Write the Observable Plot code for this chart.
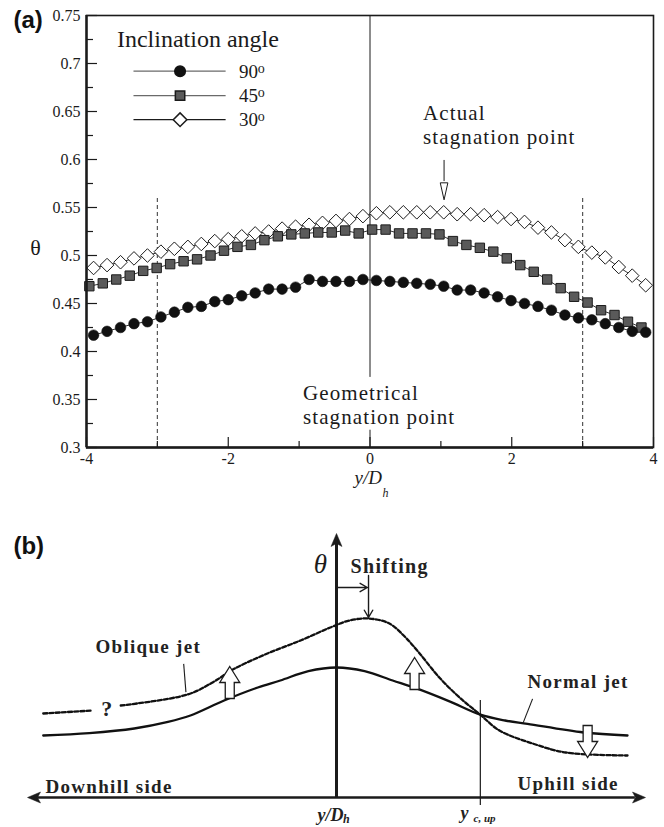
<!DOCTYPE html>
<html>
<head>
<meta charset="utf-8">
<script src="https://cdn.jsdelivr.net/npm/d3@7"></script>
<script src="https://cdn.jsdelivr.net/npm/@observablehq/plot@0.6"></script>
<style>
  body { margin: 0; background: #fff; }
  svg { display: block; }
</style>
</head>
<body>
<script>
// ---------------- Panel (a) data ----------------
const xPos = [-3.90,-3.71,-3.52,-3.33,-3.14,-2.95,-2.76,-2.57,-2.38,-2.19,-2.00,-1.81,-1.62,-1.43,-1.24,-1.05,-0.86,-0.67,-0.48,-0.29,-0.10,0.09,0.28,0.47,0.66,0.85,1.04,1.23,1.42,1.61,1.80,1.99,2.18,2.37,2.56,2.75,2.94,3.13,3.32,3.51,3.70,3.89];
const xPosSquare = [-3.96,-3.77,-3.58,-3.39,-3.20,-3.01,-2.82,-2.63,-2.44,-2.25,-2.06,-1.87,-1.68,-1.49,-1.30,-1.11,-0.92,-0.73,-0.54,-0.35,-0.16,0.03,0.22,0.41,0.60,0.79,0.98,1.17,1.36,1.55,1.74,1.93,2.12,2.31,2.50,2.69,2.88,3.07,3.26,3.45,3.64,3.83];
const theta90 = [0.417,0.421,0.425,0.429,0.431,0.436,0.441,0.446,0.447,0.452,0.454,0.458,0.461,0.465,0.465,0.467,0.475,0.473,0.473,0.473,0.475,0.474,0.473,0.472,0.471,0.470,0.468,0.464,0.464,0.461,0.457,0.453,0.450,0.447,0.443,0.438,0.435,0.433,0.429,0.425,0.421,0.420];
const theta45 = [0.468,0.471,0.475,0.479,0.484,0.487,0.491,0.494,0.496,0.500,0.505,0.509,0.511,0.516,0.520,0.522,0.523,0.524,0.524,0.526,0.523,0.527,0.527,0.523,0.523,0.523,0.522,0.515,0.511,0.508,0.504,0.497,0.490,0.483,0.475,0.466,0.457,0.451,0.443,0.438,0.431,0.425];
const theta30 = [0.487,0.490,0.493,0.497,0.500,0.504,0.507,0.509,0.512,0.515,0.517,0.520,0.523,0.525,0.528,0.530,0.532,0.534,0.536,0.538,0.541,0.544,0.545,0.545,0.545,0.545,0.545,0.543,0.543,0.542,0.540,0.538,0.535,0.529,0.524,0.516,0.509,0.503,0.498,0.488,0.479,0.469];

const yTicks = [0.3,0.35,0.4,0.45,0.5,0.55,0.6,0.65,0.7,0.75];
const yTickLabels = ["0.3","0.35","0.4","0.45","0.5","0.55","0.6","0.65","0.7","0.75"];
const yMinorTicks = [0.325,0.375,0.425,0.475,0.525,0.575,0.625,0.675,0.725];
const xTicks = [-4,-2,0,2,4];
const xTickLabels = ["-4","-2","0","2","4"];
const xMinorTicks = [-3,-1,1,3];
const dashedRefX = [-3,3];

const legendTitle = "Inclination angle";
const legendAngles = ["90","45","30"];
const legendTheta = [0.692,0.6665,0.6415];

// ---------------- Panel (b) data (schematic) ----------------
const normalU     = [-5.22,-4.4,-3.6,-3.0,-2.6,-2.0,-1.4,-1.0,-0.5,0,0.5,1.0,1.4,2.0,2.56,3.0,3.4,4.4,5.18];
const normalTheta = [0.31,0.322,0.345,0.378,0.41,0.485,0.55,0.585,0.632,0.65,0.632,0.585,0.548,0.482,0.414,0.385,0.368,0.325,0.31];
const obliqueLeftU     = [-5.22,-4.34];
const obliqueLeftTheta = [0.42,0.435];
const obliqueU     = [-3.84,-2.65,-2.19,-1.83,-1.23,-0.64,-0.11,0.23,0.57,0.94,1.23,1.48,1.83,2.19,2.56,2.90,3.49,4.08,5.18];
const obliqueTheta = [0.46,0.515,0.578,0.642,0.72,0.785,0.85,0.885,0.895,0.87,0.80,0.72,0.60,0.50,0.414,0.335,0.27,0.225,0.21];
const crossU = 2.56;
const upArrowU = [-1.90, 1.39];
const upArrowTip = [0.655, 0.70];
const downArrowU = [4.47];
const downArrowTip = [0.20];

// ---------------- helpers ----------------
const ink = "#1b1b1b";
const serif = "Liberation Serif, Times New Roman, serif";
const sans = "Liberation Sans, Arial, sans-serif";
function polySym(pts) {
  return {draw(c) { c.moveTo(pts[0][0], pts[0][1]); for (let i = 1; i < pts.length; i++) c.lineTo(pts[i][0], pts[i][1]); c.closePath(); }};
}
const squareSym = polySym([[-4.7,-4.7],[4.7,-4.7],[4.7,4.7],[-4.7,4.7]]);
const diamondSym = polySym([[0,-6.8],[6.8,0],[0,6.8],[-6.8,0]]);
const narrowDown = polySym([[0,0],[-3.8,-17],[3.8,-17]]);
const headLeft = polySym([[0,0],[13,-5.5],[10,0],[13,5.5]]);
const headRight = polySym([[0,0],[-13,-5.5],[-10,0],[-13,5.5]]);
const headUp = polySym([[0,0],[-5.5,13],[0,10],[5.5,13]]);
const AL = 32, AHW = 10, ASW = 4.5, AHL = 16;
const blockUp = polySym([[0,0],[AHW,AHL],[ASW,AHL],[ASW,AL],[-ASW,AL],[-ASW,AHL],[-AHW,AHL]]);
const blockDown = polySym([[0,0],[AHW,-AHL],[ASW,-AHL],[ASW,-AL],[-ASW,-AL],[-ASW,-AHL],[-AHW,-AHL]]);

// ---------------- Panel (a) ----------------
const W = 664;
const aH = 500, aTop = 15, aBottom = 53, aLeft = 86, aRight = 11;
const innerW = W - aLeft - aRight, innerH = aH - aTop - aBottom;

const s90 = xPos.map((x, i) => ({x, y: theta90[i]}));
const s45 = xPosSquare.map((x, i) => ({x, y: theta45[i]}));
const s30 = xPos.map((x, i) => ({x, y: theta30[i]}));
const legendX1 = -3.33, legendX2 = -2.03, legendMarkX = -2.68, legendLabelX = -1.85, legendSupX = -1.585;
const legendRows = legendAngles.map((a, i) => ({a, t: legendTheta[i]}));
const annot = [
  {x: 0.749, t: 0.6411, s: "Actual"},
  {x: 0.749, t: 0.6161, s: "stagnation point"},
  {x: -0.946, t: 0.3495, s: "Geometrical"},
  {x: -0.946, t: 0.3245, s: "stagnation point"}
];

const panelA = Plot.plot({
  width: W, height: aH,
  marginTop: aTop, marginBottom: aBottom, marginLeft: aLeft, marginRight: aRight,
  x: {domain: [-4, 4], axis: null},
  y: {domain: [0.3, 0.75], axis: null},
  style: {background: "white"},
  marks: [
    Plot.ruleX(dashedRefX, {y1: 0.3, y2: 0.561, stroke: "#555", strokeWidth: 1.2, strokeDasharray: "4,3"}),
    Plot.ruleX([0], {y1: 0.373, y2: 0.75, stroke: ink, strokeWidth: 1}),
    Plot.ruleX([0], {y1: 0.3, y2: 0.318, stroke: ink, strokeWidth: 1}),
    Plot.ruleX([1.045], {y1: 0.599, y2: 0.577, stroke: ink, strokeWidth: 1}),
    Plot.dot([{x: 1.045, y: 0.558}], {x: "x", y: "y", symbol: narrowDown, r: 5, fill: "white", stroke: ink, strokeWidth: 1}),
    Plot.line(s30, {x: "x", y: "y", stroke: ink, strokeWidth: 0.9}),
    Plot.line(s45, {x: "x", y: "y", stroke: ink, strokeWidth: 0.9}),
    Plot.line(s90, {x: "x", y: "y", stroke: ink, strokeWidth: 0.9}),
    Plot.dot(s30, {x: "x", y: "y", symbol: diamondSym, r: 5, fill: "white", stroke: ink, strokeWidth: 1}),
    Plot.dot(s45, {x: "x", y: "y", symbol: squareSym, r: 5, fill: "#5a5a5a", stroke: ink, strokeWidth: 1}),
    Plot.dot(s90, {x: "x", y: "y", r: 5.3, fill: "#111", stroke: "#111", strokeWidth: 0.6}),
    Plot.frame({stroke: ink, strokeWidth: 1.6}),
    Plot.ruleX([-4], {y1: 0.3, y2: 0.75, stroke: ink, strokeWidth: 2.4}),
    Plot.ruleY([0.3], {x1: -4, x2: 4, stroke: ink, strokeWidth: 2.4}),
    Plot.tickY(yTicks, {stroke: ink, strokeWidth: 1.2, insetRight: innerW - 11}),
    Plot.tickY(yMinorTicks, {stroke: ink, strokeWidth: 1.2, insetRight: innerW - 7}),
    Plot.tickX(xTicks, {stroke: ink, strokeWidth: 1.2, insetTop: innerH - 10}),
    Plot.tickX(xMinorTicks, {stroke: ink, strokeWidth: 1.2, insetTop: innerH - 6}),
    Plot.text(yTicks, {x: -4, y: d => d, text: (d, i) => yTickLabels[i], textAnchor: "end", lineAnchor: "middle", dx: -6, fontSize: 16, fontFamily: serif, fill: ink}),
    Plot.text(xTicks, {x: d => d, y: 0.3, text: (d, i) => xTickLabels[i], lineAnchor: "top", dy: 5, fontSize: 16, fontFamily: serif, fill: ink}),
    Plot.text(["y/D"], {x: 0.17, y: 0.2625, textAnchor: "end", lineAnchor: "bottom", fontSize: 19, fontStyle: "italic", fontFamily: serif, fill: ink}),
    Plot.text(["h"], {x: 0.175, y: 0.2625, textAnchor: "start", lineAnchor: "bottom", dy: 13, fontSize: 12, fontStyle: "italic", fontFamily: serif, fill: ink}),
    Plot.text(["θ"], {x: -4.72, y: 0.508, lineAnchor: "middle", fontSize: 22, fontFamily: serif, fill: ink}),
    Plot.text(["(a)"], {x: -5.03, y: 0.7365, textAnchor: "start", lineAnchor: "bottom", fontSize: 24, fontWeight: "bold", fontFamily: sans, fill: "#111"}),
    // legend
    Plot.text([legendTitle], {x: -3.57, y: 0.7167, textAnchor: "start", lineAnchor: "bottom", fontSize: 24, fontFamily: serif, fill: ink}),
    Plot.ruleY(legendRows, {y: "t", x1: legendX1, x2: legendX2, stroke: (d, i) => i < 2 ? "#6a6a6a" : ink, strokeWidth: 1.2}),
    Plot.dot([legendRows[0]], {x: legendMarkX, y: "t", r: 5.3, fill: "#111", stroke: "#111"}),
    Plot.dot([legendRows[1]], {x: legendMarkX, y: "t", symbol: squareSym, r: 5, fill: "#5a5a5a", stroke: ink}),
    Plot.dot([legendRows[2]], {x: legendMarkX, y: "t", symbol: diamondSym, r: 5, fill: "white", stroke: ink}),
    Plot.text(legendRows, {x: legendLabelX, y: "t", text: "a", textAnchor: "start", lineAnchor: "middle", dy: 0.5, fontSize: 19, fontFamily: serif, fill: ink}),
    Plot.text(legendRows, {x: legendSupX, y: "t", text: () => "o", textAnchor: "start", lineAnchor: "bottom", dy: 1.5, fontSize: 14, fontFamily: serif, fill: ink}),
    // annotations
    Plot.text(annot, {x: "x", y: "t", text: "s", textAnchor: "start", lineAnchor: "bottom", fontSize: 21, fontFamily: serif, fill: ink})
  ]
});
d3.select(panelA).selectAll("g[font-size='21'] text").attr("letter-spacing", "1.1");
document.body.appendChild(panelA);

// ---------------- Panel (b) ----------------
const bH = 327;
const normal = normalU.map((u, i) => ({u, t: normalTheta[i]}));
const obliqueLeft = obliqueLeftU.map((u, i) => ({u, t: obliqueLeftTheta[i]}));
const oblique = obliqueU.map((u, i) => ({u, t: obliqueTheta[i]}));
const upArrows = upArrowU.map((u, i) => ({u, t: upArrowTip[i]}));
const downArrows = downArrowU.map((u, i) => ({u, t: downArrowTip[i]}));
const shiftArrows = [{x1: 0, y1: 1.05, x2: 0.55, y2: 1.05}, {x1: 0.57, y1: 1.11, x2: 0.57, y2: 0.90}];
const leaders = [{x1: -2.72, y1: 0.668, x2: -2.68, y2: 0.527}, {x1: 3.49, y1: 0.493, x2: 3.32, y2: 0.372}];
const boldLabels = [
  {u: 0.25, t: 1.125, s: "Shifting", f: 20},
  {u: -4.29, t: 0.725, s: "Oblique jet", f: 19},
  {u: 3.40, t: 0.55, s: "Normal jet", f: 19},
  {u: -5.18, t: 0.025, s: "Downhill side", f: 19},
  {u: 3.22, t: 0.04, s: "Uphill side", f: 19}
];

const panelB = Plot.plot({
  width: W, height: bH,
  marginTop: 17, marginBottom: 30, marginLeft: 27, marginRight: 19,
  x: {domain: [-5.5, 5.5], axis: null},
  y: {domain: [0, 1.4], axis: null},
  style: {background: "white"},
  marks: [
    Plot.ruleY([0], {x1: -5.32, x2: 5.32, stroke: ink, strokeWidth: 2.5}),
    Plot.dot([{u: -5.5, t: 0}], {x: "u", y: "t", symbol: headLeft, r: 5, fill: ink, stroke: ink, strokeWidth: 0.5}),
    Plot.dot([{u: 5.5, t: 0}], {x: "u", y: "t", symbol: headRight, r: 5, fill: ink, stroke: ink, strokeWidth: 0.5}),
    Plot.ruleX([0], {y1: 0, y2: 1.28, stroke: ink, strokeWidth: 3}),
    Plot.dot([{u: 0, t: 1.32}], {x: "u", y: "t", symbol: headUp, r: 5, fill: ink, stroke: ink, strokeWidth: 0.5}),
    Plot.ruleX([crossU], {y1: -0.04, y2: 0.485, stroke: ink, strokeWidth: 1.2}),
    Plot.line(normal, {x: "u", y: "t", curve: "catmull-rom", stroke: "#111", strokeWidth: 2.3}),
    Plot.line(obliqueLeft, {x: "u", y: "t", stroke: "#111", strokeWidth: 2.3, strokeDasharray: "4,2.2"}),
    Plot.line(oblique, {x: "u", y: "t", curve: "catmull-rom", stroke: "#111", strokeWidth: 2.3, strokeDasharray: "4,2.2"}),
    Plot.dot(upArrows, {x: "u", y: "t", symbol: blockUp, r: 5, fill: "white", stroke: ink, strokeWidth: 1.3}),
    Plot.dot(downArrows, {x: "u", y: "t", symbol: blockDown, r: 5, fill: "white", stroke: ink, strokeWidth: 1.3}),
    Plot.arrow(shiftArrows, {x1: "x1", y1: "y1", x2: "x2", y2: "y2", headLength: 9, stroke: ink, strokeWidth: 1.4}),
    Plot.link(leaders, {x1: "x1", y1: "y1", x2: "x2", y2: "y2", stroke: ink, strokeWidth: 1.1}),
    Plot.text(["(b)"], {x: -5.75, y: 1.22, textAnchor: "start", lineAnchor: "bottom", fontSize: 24, fontWeight: 700, fontFamily: sans, fill: "#111"}),
    Plot.text(["θ"], {x: -0.285, y: 1.125, lineAnchor: "bottom", fontSize: 27, fontStyle: "italic", fontFamily: serif, fill: ink}),
    Plot.text(boldLabels, {x: "u", y: "t", text: "s", fontSize: "f", textAnchor: "start", lineAnchor: "bottom", fontWeight: "bold", fontFamily: serif, fill: "#222"}),
    Plot.text(["?"], {x: -4.09, y: 0.41, lineAnchor: "bottom", fontSize: 22, fontWeight: 600, fontFamily: serif, fill: "#222"}),
    Plot.text(["y/D"], {x: -0.34, y: -0.115, textAnchor: "start", lineAnchor: "bottom", fontSize: 18, fontStyle: "italic", fontWeight: 600, fontFamily: serif, fill: "#222"}),
    Plot.text(["h"], {x: 0.116, y: -0.115, textAnchor: "start", lineAnchor: "bottom", dy: 2, fontSize: 12, fontStyle: "italic", fontWeight: 600, fontFamily: serif, fill: "#222"}),
    Plot.text(["y"], {x: 2.207, y: -0.105, textAnchor: "start", lineAnchor: "bottom", fontSize: 18, fontStyle: "italic", fontWeight: 600, fontFamily: serif, fill: "#222"}),
    Plot.text(["c, up"], {x: 2.44, y: -0.12, textAnchor: "start", lineAnchor: "bottom", fontSize: 11, fontStyle: "italic", fontWeight: 600, fontFamily: serif, fill: "#222"})
  ]
});
d3.select(panelB).selectAll("g[font-weight='bold'] text").attr("letter-spacing", "1.3");
document.body.appendChild(panelB);
</script>
</body>
</html>
